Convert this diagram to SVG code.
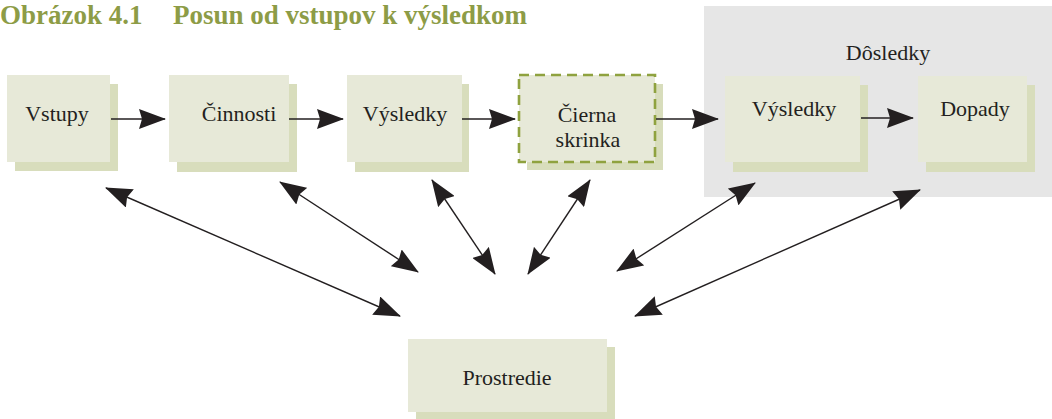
<svg xmlns="http://www.w3.org/2000/svg" width="1052" height="419" viewBox="0 0 1052 419">
<defs>
<style>
.title{font-family:"Liberation Serif","Times New Roman",serif;font-weight:bold;font-size:27px;fill:#8d9c46}
.lbl{font-family:"Liberation Serif","Times New Roman",serif;font-size:22px;fill:#231f20;text-anchor:middle}
.front{fill:#e7e9d8}
.shadow{fill:#d8ddbc}
.dash{stroke:#8fa23f;stroke-width:2.6;stroke-dasharray:10 6}
.con{stroke:#231f20;stroke-width:1.4;fill:none}
.one{marker-end:url(#ah)}
.two{marker-start:url(#ah);marker-end:url(#ah)}
</style>
<marker id="ah" markerUnits="userSpaceOnUse" viewBox="0 0 27 20" refX="26" refY="10" markerWidth="27" markerHeight="20" orient="auto-start-reverse">
<path d="M0,0 L27,10 L0,20 L3,10 Z" fill="#231f20"/>
</marker>
</defs>
<rect width="1052" height="419" fill="#ffffff"/>
<text class="title" x="0" y="24">Obrázok 4.1</text>
<text class="title" x="173" y="24">Posun od vstupov k výsledkom</text>

<g id="dosledky">
<rect x="704" y="6" width="348" height="191" fill="#e6e6e6"/>
<text class="lbl" x="888" y="60">Dôsledky</text>
</g>

<g id="vstupy">
<rect class="shadow" x="15" y="84" width="103" height="87"/>
<rect class="front" x="7" y="75" width="103" height="87"/>
<text class="lbl" x="57" y="121">Vstupy</text>
</g>
<g id="cinnosti">
<rect class="shadow" x="177" y="84" width="120" height="88"/>
<rect class="front" x="169" y="75" width="120" height="87"/>
<text class="lbl" x="239" y="121">Činnosti</text>
</g>
<g id="vysledky1">
<rect class="shadow" x="355" y="84" width="114" height="88"/>
<rect class="front" x="347" y="75" width="115" height="87"/>
<text class="lbl" x="405" y="121">Výsledky</text>
</g>
<g id="cierna">
<rect class="shadow" x="527" y="84" width="136" height="86"/>
<rect class="front dash" x="519" y="75" width="136" height="87"/>
<text class="lbl" x="587" y="122">Čierna</text>
<text class="lbl" x="588" y="147">skrinka</text>
</g>
<g id="vysledky2">
<rect class="shadow" x="733" y="85" width="135" height="87"/>
<rect class="front" x="725" y="76" width="135" height="86"/>
<text class="lbl" x="794" y="116">Výsledky</text>
</g>
<g id="dopady">
<rect class="shadow" x="926" y="85" width="109" height="87"/>
<rect class="front" x="918" y="76" width="109" height="86"/>
<text class="lbl" x="975" y="116">Dopady</text>
</g>
<g id="prostredie">
<rect class="shadow" x="416" y="347" width="199" height="74"/>
<rect class="front" x="408" y="339" width="199" height="73"/>
<text class="lbl" x="507" y="385">Prostredie</text>
</g>

<g id="connectors">
<line class="con one" x1="111" y1="119" x2="165" y2="119"/>
<line class="con one" x1="289" y1="119" x2="343" y2="119"/>
<line class="con one" x1="462" y1="119" x2="515" y2="119"/>
<line class="con one" x1="656" y1="119" x2="718" y2="119"/>
<line class="con one" x1="861" y1="118" x2="913" y2="118"/>
<line class="con two" x1="106" y1="188" x2="400" y2="316"/>
<line class="con two" x1="280" y1="182" x2="418" y2="272"/>
<line class="con two" x1="432" y1="180" x2="495" y2="274"/>
<line class="con two" x1="590" y1="180" x2="528" y2="274"/>
<line class="con two" x1="755" y1="183" x2="617" y2="271"/>
<line class="con two" x1="920" y1="190" x2="635" y2="316"/>
</g>
</svg>
